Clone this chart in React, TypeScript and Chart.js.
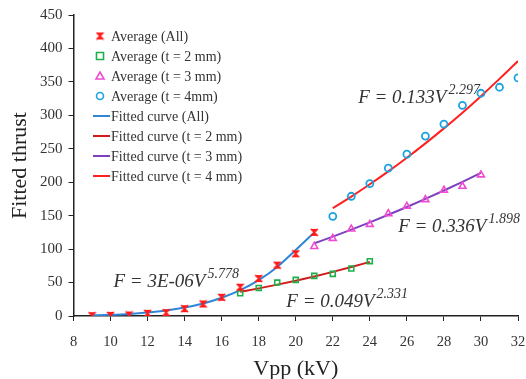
import React, { useEffect, useRef } from "react";
import { Chart, registerables } from "chart.js";

Chart.register(...registerables);

// ---- Data ----
const vAll = [9, 10, 11, 12, 13, 14, 15, 16, 17, 18, 19, 20, 21];
const avgAll = [0.5, 1, 1.5, 4, 5, 11, 18, 28, 43, 56, 76, 93, 125];
const fitAll = [1.0, 1.8, 3.1, 5.2, 8.2, 12.6, 18.7, 27.2, 38.6, 53.7, 73.4, 98.7, 125];

const v2 = [17, 18, 19, 20, 21, 22, 23, 24];
const avg2 = [34, 42, 50, 54, 60, 63, 71, 82];
const fit2 = [36.2, 41.3, 46.9, 52.8, 59.2, 66.0, 73.2, 80.8];

const v3 = [21, 22, 23, 24, 25, 26, 27, 28, 29, 30];
const avg3 = [104, 116, 130, 137, 153, 164, 174, 188, 194, 211];
const fit3 = [108.7, 118.7, 129.2, 140.0, 151.3, 163.0, 175.1, 187.6, 200.5, 213.9];

const v4 = [22, 23, 24, 25, 26, 27, 28, 29, 30, 31, 32];
const avg4 = [149, 179, 198, 221, 242, 269, 287, 315, 333, 342, 356];
const fit4 = [161.2, 178.5, 196.9, 216.2, 236.6, 258.1, 280.5, 304.0, 328.7, 354.5, 381.2];

const xTicks = [8, 10, 12, 14, 16, 18, 20, 22, 24, 26, 28, 30, 32];
const yTicks = [0, 50, 100, 150, 200, 250, 300, 350, 400, 450];

const equations = [
  { main: "F = 0.133V", sup: "2.297", v: 23.37, f: 318 },
  { main: "F = 0.336V", sup: "1.898", v: 25.53, f: 125 },
  { main: "F = 3E-06V", sup: "5.778", v: 10.16, f: 43 },
  { main: "F = 0.049V", sup: "2.331", v: 19.49, f: 13 },
];

const SERIF = "'Liberation Serif', 'DejaVu Serif', serif";

function pts(xs: number[], ys: number[]) {
  return xs.map((x, i) => ({ x, y: ys[i] }));
}

function makeHourglass(color: string): HTMLCanvasElement {
  const c = document.createElement("canvas");
  c.width = 9;
  c.height = 9;
  const g = c.getContext("2d")!;
  g.fillStyle = color;
  g.beginPath();
  g.moveTo(1, 1);
  g.lineTo(8, 1);
  g.lineTo(4.5, 4.5);
  g.closePath();
  g.fill();
  g.beginPath();
  g.moveTo(1, 8);
  g.lineTo(8, 8);
  g.lineTo(4.5, 4.5);
  g.closePath();
  g.fill();
  g.strokeStyle = color;
  g.lineWidth = 1.6;
  g.beginPath();
  g.moveTo(1, 1);
  g.lineTo(8, 8);
  g.moveTo(8, 1);
  g.lineTo(1, 8);
  g.stroke();
  return c;
}

export default function App() {
  const ref = useRef<HTMLCanvasElement>(null);

  useEffect(() => {
    if (!ref.current) return;
    const hour = makeHourglass("#FF1A1A");

    const legendPlugin = {
      id: "customLegend",
      afterDraw(chart: any) {
        const ctx = chart.ctx;
        ctx.save();
        const x0 = 100;
        let y = 36;
        ctx.font = `14px ${SERIF}`;
        ctx.textBaseline = "middle";
        chart.data.datasets.forEach((ds: any) => {
          if (ds.showLine) {
            ctx.strokeStyle = ds.borderColor;
            ctx.lineWidth = 2;
            ctx.beginPath();
            ctx.moveTo(x0 - 7, y);
            ctx.lineTo(x0 + 10, y);
            ctx.stroke();
          } else {
            const style = ds.pointStyle;
            if (style instanceof HTMLCanvasElement) {
              ctx.drawImage(style, x0 - 4.5, y - 4.5);
            } else {
              ctx.strokeStyle = ds.pointBorderColor;
              ctx.lineWidth = 1.6;
              ctx.beginPath();
              if (style === "rect") {
                ctx.rect(x0 - 3.5, y - 3.5, 7, 7);
              } else if (style === "triangle") {
                ctx.moveTo(x0, y - 4);
                ctx.lineTo(x0 + 4, y + 3);
                ctx.lineTo(x0 - 4, y + 3);
                ctx.closePath();
              } else {
                ctx.arc(x0, y, 3.5, 0, Math.PI * 2);
              }
              ctx.stroke();
            }
          }
          ctx.fillStyle = "#333";
          ctx.textAlign = "left";
          ctx.fillText(ds.label, x0 + 11, y + 1);
          y += 20;
        });

        // equations
        const xs = chart.scales.x;
        const ys = chart.scales.y;
        equations.forEach((e) => {
          const px = xs.getPixelForValue(e.v);
          const py = ys.getPixelForValue(e.f);
          ctx.textBaseline = "alphabetic";
          ctx.textAlign = "left";
          ctx.fillStyle = "#333";
          ctx.font = `italic 19px ${SERIF}`;
          ctx.fillText(e.main, px, py);
          const w = ctx.measureText(e.main).width;
          ctx.font = `italic 14px ${SERIF}`;
          ctx.fillText(e.sup, px + w + 2, py - 9);
        });
        ctx.restore();
      },
    };

    const chart = new Chart(ref.current, {
      type: "scatter",
      data: {
        datasets: [
          {
            label: "Average (All)",
            data: pts(vAll, avgAll),
            pointStyle: hour as any,
            pointBorderColor: "#FF1A1A",
            pointBackgroundColor: "#FF1A1A",
            showLine: false,
            order: 1,
          },
          {
            label: "Average (t = 2 mm)",
            data: pts(v2, avg2),
            pointStyle: "rect",
            pointRadius: 3.5,
            pointBorderWidth: 1.6,
            pointBorderColor: "#1DB04A",
            pointBackgroundColor: "rgba(0,0,0,0)",
            showLine: false,
            order: 1,
          },
          {
            label: "Average (t = 3 mm)",
            data: pts(v3, avg3),
            pointStyle: "triangle",
            pointRadius: 4,
            pointBorderWidth: 1.6,
            pointBorderColor: "#F04CD2",
            pointBackgroundColor: "rgba(0,0,0,0)",
            showLine: false,
            order: 1,
          },
          {
            label: "Average (t = 4mm)",
            data: pts(v4, avg4),
            pointStyle: "circle",
            pointRadius: 3.5,
            pointBorderWidth: 1.8,
            pointBorderColor: "#1AA3E0",
            pointBackgroundColor: "rgba(0,0,0,0)",
            showLine: false,
            order: 1,
          },
          {
            label: "Fitted curve (All)",
            data: pts(vAll, fitAll),
            showLine: true,
            borderColor: "#2F86D6",
            borderWidth: 2,
            pointRadius: 0,
            cubicInterpolationMode: "monotone",
            order: 2,
          },
          {
            label: "Fitted curve (t = 2 mm)",
            data: pts(v2, fit2),
            showLine: true,
            borderColor: "#D41A1A",
            borderWidth: 2,
            pointRadius: 0,
            cubicInterpolationMode: "monotone",
            order: 2,
          },
          {
            label: "Fitted curve (t = 3 mm)",
            data: pts(v3, fit3),
            showLine: true,
            borderColor: "#7E40BE",
            borderWidth: 2,
            pointRadius: 0,
            cubicInterpolationMode: "monotone",
            order: 2,
          },
          {
            label: "Fitted curve (t = 4 mm)",
            data: pts(v4, fit4),
            showLine: true,
            borderColor: "#FF2020",
            borderWidth: 2,
            pointRadius: 0,
            cubicInterpolationMode: "monotone",
            order: 2,
          },
        ] as any,
      },
      options: {
        animation: false,
        responsive: false,
        maintainAspectRatio: false,
        layout: { padding: { top: 15, right: 0, left: 9, bottom: 0 } },
        plugins: {
          legend: { display: false },
          tooltip: { enabled: false },
        },
        scales: {
          x: {
            type: "linear",
            min: 8,
            max: 32,
            afterBuildTicks: (axis: any) => {
              axis.ticks = xTicks.map((v) => ({ value: v }));
            },
            afterFit: (axis: any) => {
              axis.paddingRight = 8;
              axis.height = 63;
            },
            grid: {
              display: true,
              drawOnChartArea: false,
              drawTicks: true,
              tickLength: 5,
              color: "#222",
            },
            border: { display: true, color: "#222", width: 1.5 },
            ticks: {
              color: "#333",
              font: { family: SERIF, size: 14.5, lineHeight: 0.9 },
              padding: 15,
              maxRotation: 0,
            },
            title: {
              display: true,
              text: "Vpp (kV)",
              color: "#222",
              font: { family: SERIF, size: 22, lineHeight: 0.9 },
              padding: { top: 0, bottom: 0 },
            },
          },
          y: {
            type: "linear",
            min: 0,
            max: 450,
            afterBuildTicks: (axis: any) => {
              axis.ticks = yTicks.map((v) => ({ value: v }));
            },
            grid: {
              display: true,
              drawOnChartArea: false,
              drawTicks: true,
              tickLength: 5,
              color: "#222",
            },
            border: { display: true, color: "#222", width: 1.5 },
            ticks: {
              color: "#333",
              font: { family: SERIF, size: 15 },
              padding: 6,
            },
            title: {
              display: true,
              text: "Fitted thrust",
              color: "#222",
              font: { family: SERIF, size: 22, lineHeight: 1 },
              padding: { top: 0, bottom: 3 },
            },
          },
        },
      },
      plugins: [legendPlugin],
    } as any);

    return () => chart.destroy();
  }, []);

  return (
    <div style={{ position: "fixed", left: 0, top: 0, width: 526, height: 379, background: "#fff" }}>
      <canvas ref={ref} width={526} height={379} style={{ width: 526, height: 379, display: "block" }} />
    </div>
  );
}
